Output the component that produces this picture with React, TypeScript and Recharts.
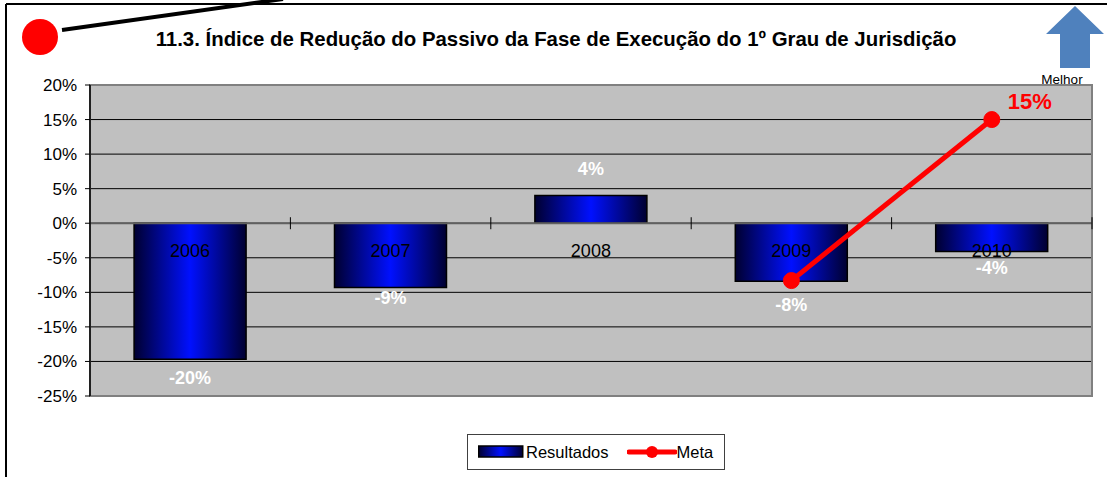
import {
  ComposedChart,
  Bar,
  Line,
  XAxis,
  YAxis,
  CartesianGrid,
  ReferenceLine,
  ReferenceArea,
  LabelList,
} from "recharts";

const years = ["2006", "2007", "2008", "2009", "2010"];
const resultados = [-19.7, -9.3, 4, -8.4, -4.1];
const meta: (number | null)[] = [null, null, null, -8.3, 15];
const yTicks = [20, 15, 10, 5, 0, -5, -10, -15, -20, -25];

const data = years.map((year, i) => ({
  year,
  resultados: resultados[i],
  meta: meta[i],
}));

const FONT = "'Liberation Sans', Arial, sans-serif";
// vertical shift of the value labels from the bar end (Excel places them unevenly)
const labelShift = [19, 11, -27, 24, 16];

function YearLabel(props: any) {
  const { x, y, width, height, value } = props;
  const zero = y + height;
  return (
    <text x={x + width / 2} y={zero + 34} textAnchor="middle" fontSize={18} fontFamily={FONT} fill="#000">
      {value}
    </text>
  );
}

function ValueLabel(props: any) {
  const { x, y, width, value, index } = props;
  return (
    <text
      x={x + width / 2}
      y={y + labelShift[index] + 6}
      textAnchor="middle"
      fontSize={18}
      fontWeight="bold"
      fontFamily={FONT}
      fill="#fff"
    >
      {Math.round(value)}%
    </text>
  );
}

function MetaLabel(props: any) {
  const { x, y, value, index } = props;
  if (value == null || index !== years.length - 1) return null;
  return (
    <text x={x + 38} y={y - 11} textAnchor="middle" fontSize={22} fontWeight="bold" fontFamily={FONT} fill="#ff0000">
      {value}%
    </text>
  );
}

function ZeroAxis(props: any) {
  const { x1, y1, x2, y2 } = props;
  const n = years.length;
  const marks = [];
  for (let i = 1; i <= n; i++) {
    const xx = x1 + ((x2 - x1) * i) / n;
    marks.push(<line key={i} x1={xx} x2={xx} y1={y1 - 6} y2={y1 + 6} stroke="#000" strokeWidth={1} />);
  }
  return (
    <g>
      <line x1={x1} y1={y1} x2={x2} y2={y2} stroke="#606060" strokeWidth={2} />
      {marks}
    </g>
  );
}

export default function App() {
  return (
    <div style={{ position: "absolute", left: 0, top: 0, width: 1107, height: 477, background: "#fff" }}>
      <ComposedChart
        width={1107}
        height={477}
        data={data}
        margin={{ top: 85, right: 15, bottom: 81, left: 0 }}
        barCategoryGap="22%"
      >
        <defs>
          <linearGradient id="barGrad" x1="0" y1="0" x2="1" y2="0">
            <stop offset="0%" stopColor="#000030" />
            <stop offset="50%" stopColor="#0010ff" />
            <stop offset="100%" stopColor="#000030" />
          </linearGradient>
        </defs>
        <CartesianGrid vertical={false} stroke="#000" strokeWidth={1} fill="#c0c0c0" fillOpacity={1} />
        <XAxis dataKey="year" hide />
        <YAxis
          domain={[-25, 20]}
          ticks={yTicks}
          interval={0}
          width={90}
          tickSize={5}
          tickMargin={8}
          tickFormatter={(v) => `${v}%`}
          tick={{ fill: "#000", fontSize: 17, fontFamily: FONT }}
          tickLine={{ stroke: "#000" }}
          axisLine={{ stroke: "#000", strokeWidth: 1.5 }}
        />
        <ReferenceArea y1={-25} y2={20} fill="none" stroke="#808080" strokeWidth={2} />
        <ReferenceLine y={0} shape={<ZeroAxis />} />
        <Bar dataKey="resultados" fill="url(#barGrad)" stroke="#000" strokeWidth={1.5} isAnimationActive={false}>
          <LabelList dataKey="year" content={<YearLabel />} />
          <LabelList dataKey="resultados" content={<ValueLabel />} />
        </Bar>
        <Line
          dataKey="meta"
          stroke="#ff0000"
          strokeWidth={5}
          dot={{ r: 8, fill: "#ff0000", stroke: "#ff0000", strokeWidth: 1 }}
          activeDot={false}
          isAnimationActive={false}
        >
          <LabelList dataKey="meta" content={<MetaLabel />} />
        </Line>
      </ComposedChart>

      <svg width={1107} height={477} style={{ position: "absolute", left: 0, top: 0, pointerEvents: "none" }}>
        <line x1={6} y1={4} x2={1107} y2={4} stroke="#000" strokeWidth={2} />
        <line x1={6} y1={4} x2={6} y2={477} stroke="#000" strokeWidth={2} />
        <line x1={62} y1={30} x2={283} y2={-1} stroke="#000" strokeWidth={4} />
        <circle cx={40} cy={37} r={18} fill="#ff0000" />
        <text x={556} y={46} textAnchor="middle" fontSize={20.4} fontWeight="bold" fontFamily={FONT} fill="#000">
          11.3. Índice de Redução do Passivo da Fase de Execução do 1º Grau de Jurisdição
        </text>
        <polygon
          points="1075,6 1104,34 1090,34 1090,68 1060,68 1060,34 1046,34"
          fill="#4f81bd"
        />
        <text x={1062} y={84} textAnchor="middle" fontSize={13.5} fontFamily={FONT} fill="#000">
          Melhor
        </text>
      </svg>

      <div
        style={{
          position: "absolute",
          left: 467,
          top: 434,
          width: 256,
          height: 34,
          border: "1px solid #404040",
          background: "#fff",
          fontFamily: FONT,
          fontSize: 16.5,
          display: "flex",
          alignItems: "center",
        }}
      >
        <svg width={46} height={14} style={{ marginLeft: 10 }}>
          <rect x={0.75} y={1} width={44} height={11} fill="url(#legGrad)" stroke="#000" strokeWidth={1.5} />
          <defs>
            <linearGradient id="legGrad" x1="0" y1="0" x2="1" y2="0">
              <stop offset="0%" stopColor="#000030" />
              <stop offset="50%" stopColor="#0010ff" />
              <stop offset="100%" stopColor="#000030" />
            </linearGradient>
          </defs>
        </svg>
        <span style={{ marginLeft: 2 }}>Resultados</span>
        <svg width={50} height={16} style={{ marginLeft: 18 }}>
          <line x1={2} y1={8} x2={48} y2={8} stroke="#ff0000" strokeWidth={5} strokeLinecap="round" />
          <circle cx={25} cy={8} r={6} fill="#ff0000" />
        </svg>
        <span>Meta</span>
      </div>
    </div>
  );
}
